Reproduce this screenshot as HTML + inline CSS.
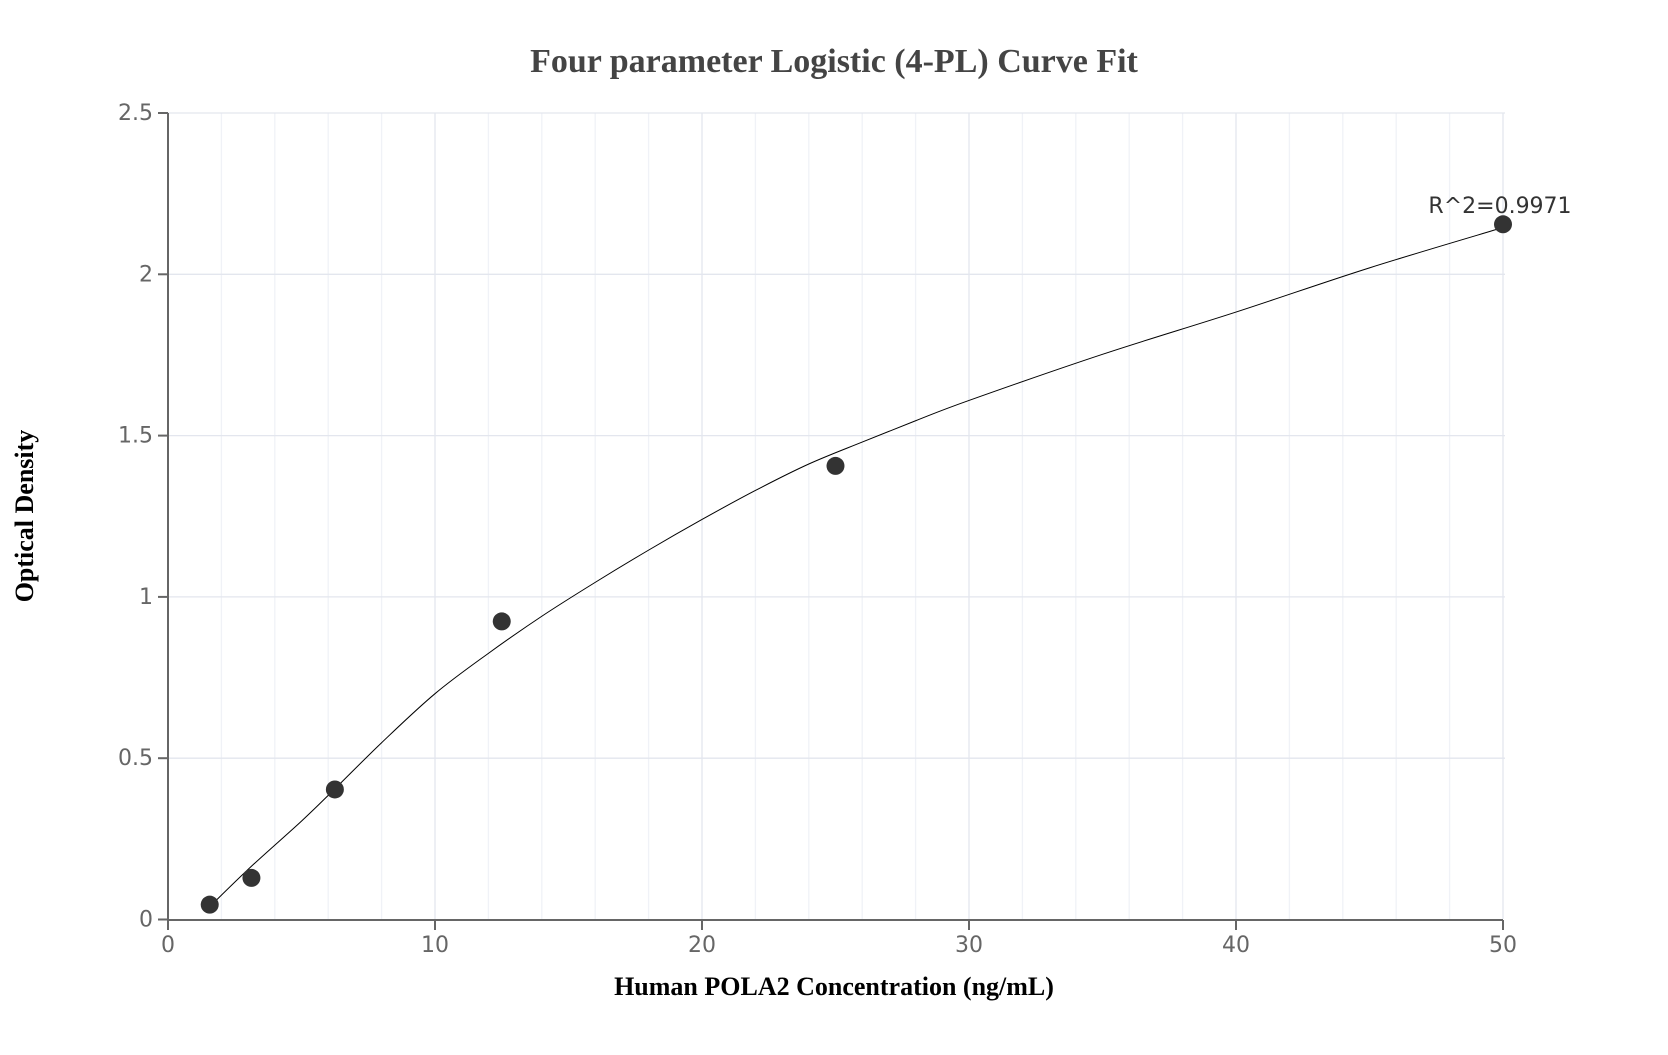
<!DOCTYPE html>
<html><head><style>body{margin:0;background:#fff}</style></head><body>
<svg width="1668" height="1050" xmlns="http://www.w3.org/2000/svg">
<g id="grid"></g>
<text x="834" y="72" text-anchor="middle" font-family="Liberation Serif" font-weight="bold" font-size="34" fill="#444">Four parameter Logistic (4-PL) Curve Fit</text>
<text x="834" y="995" text-anchor="middle" font-family="Liberation Serif" font-weight="bold" font-size="26" fill="#000">Human POLA2 Concentration (ng/mL)</text>
<text transform="translate(33,516) rotate(-90)" text-anchor="middle" font-family="Liberation Serif" font-weight="bold" font-size="26" fill="#000">Optical Density</text>
<g id="ax"></g>
<path id="curve" fill="none" stroke="#000" stroke-width="1"/>
<g id="pts"></g>
<text x="1500" y="213" text-anchor="middle" font-family="DejaVu Sans, Liberation Sans" font-size="22" fill="#333">R^2=0.9971</text>
</svg>
<script>
const X=v=>168+v*(1503-168)/50, Y=v=>919.5-v*(919.5-113)/2.5;
let g='',a='';
for(let i=1;i<=25;i++){let x=X(i*2);g+=`<line x1="${x}" y1="113" x2="${x}" y2="919" stroke="${i%5==0?'#e3e6ee':'#f0f2f7'}" stroke-width="1.3"/>`;}
for(let i=1;i<=5;i++){let y=Y(i*0.5);g+=`<line x1="168" y1="${y}" x2="1505" y2="${y}" stroke="#e3e6ee" stroke-width="1.3"/>`;}
document.getElementById('grid').innerHTML=g;
a+=`<line x1="168" y1="113" x2="168" y2="920" stroke="#666" stroke-width="2"/><line x1="168" y1="920" x2="1503" y2="920" stroke="#666" stroke-width="2"/>`;
for(let i=0;i<=5;i++){let y=Y(i*0.5);a+=`<line x1="158" y1="${y}" x2="168" y2="${y}" stroke="#666" stroke-width="2"/><text x="153" y="${y+7}" text-anchor="end" font-family="DejaVu Sans, Liberation Sans" font-size="22" fill="#666">${i*0.5}</text>`;}
for(let i=0;i<=5;i++){let x=X(i*10);a+=`<line x1="${x}" y1="920" x2="${x}" y2="930" stroke="#666" stroke-width="2"/><text x="${x}" y="952" text-anchor="middle" font-family="DejaVu Sans, Liberation Sans" font-size="22" fill="#666">${i*10}</text>`;}
document.getElementById('ax').innerHTML=a;
const c=[[1.5625,0.04],[3.125,0.165],[5,0.305],[6.25,0.405],[8,0.548],[10,0.70],[12,0.825],[14,0.94],[16,1.045],[18,1.145],[20,1.24],[22,1.33],[24,1.412],[26,1.48],[28,1.546],[30,1.609],[35,1.752],[40,1.883],[45,2.02],[50,2.145]];
let P=c.map(p=>[X(p[0]),Y(p[1])]),d=`M${P[0]}`;
for(let i=0;i<P.length-1;i++){let p0=P[Math.max(0,i-1)],p1=P[i],p2=P[i+1],p3=P[Math.min(P.length-1,i+2)];
d+=` C${p1[0]+(p2[0]-p0[0])/6},${p1[1]+(p2[1]-p0[1])/6} ${p2[0]-(p3[0]-p1[0])/6},${p2[1]-(p3[1]-p1[1])/6} ${p2[0]},${p2[1]}`;}
document.getElementById('curve').setAttribute('d',d);
const pts=[[1.5625,0.046],[3.125,0.129],[6.25,0.403],[12.5,0.924],[25,1.406],[50,2.155]];
document.getElementById('pts').innerHTML=pts.map(p=>`<circle cx="${X(p[0])}" cy="${Y(p[1])}" r="9" fill="#333"/>`).join('');
</script>
</body></html>
